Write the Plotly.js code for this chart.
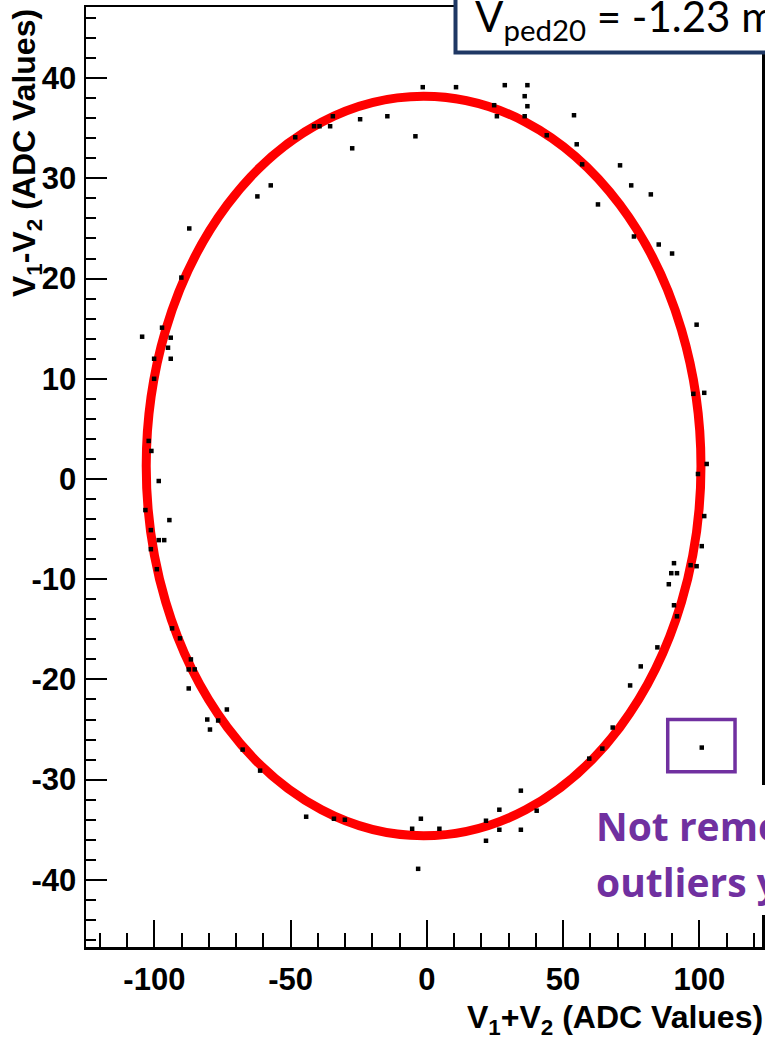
<!DOCTYPE html>
<html>
<head>
<meta charset="utf-8">
<script src="https://cdn.plot.ly/plotly-3.0.1.min.js"></script>
<style>html,body{margin:0;padding:0;background:#fff;}#chart{width:765px;height:1040px;}</style>
</head>
<body>
<div id="chart"></div>
<script>
// Measured points (V1+V2, V1-V2) in ADC values
const sumVals = [
  -1.5, 10.7, -34.5, -41.4, -39.4, -35.5, -24.5, -14.5, -48.3, -27.4, -4.2, -57.3, -62.2, -87.2, -90.1,
  28.6, 36.9, 35.9, 24.7, 36.9, 25.7, 35.9, 54.0, 44.0, 55.0, 57.0, 70.9, 75.0, 82.2, 62.8, 76.0, 85.1, 90.0,
  99.0, 97.8, 101.8, 102.7, 99.5, 101.8, 100.9, 90.7, 96.8, 99.0, 89.7, 91.8, 88.8, 90.7, 91.8, 84.6, 78.5, 74.6,
  68.2, 64.4, 59.6, 100.9,
  -67.6, -61.2, -44.3, -34.1, -30.1, -2.2, -5.4, 4.6, -3.2, 21.7, 26.6, 34.5, 40.3, 26.6, 34.5, 21.7,
  -93.5, -90.6, -86.6, -87.4, -85.2, -87.4, -73.4, -80.6, -76.6, -79.6,
  -97.2, -104.5, -94.0, -95.0, -100.1, -94.0, -100.1, -102.1, -101.1, -98.4, -103.3, -94.5, -101.3, -98.4, -96.4, -101.3, -99.1
];
const diffVals = [
  39.1, 39.1, 36.2, 35.2, 35.2, 35.2, 35.9, 36.2, 34.1, 33.0, 34.2, 29.3, 28.2, 25.0, 20.1,
  39.3, 39.3, 38.2, 37.3, 37.2, 36.2, 36.2, 36.3, 34.3, 33.4, 31.4, 31.3, 29.3, 28.4, 27.4, 24.2, 23.4, 22.5,
  15.4, 8.5, 8.6, 1.5, 0.5, -3.7, -6.7, -8.4, -8.6, -8.7, -9.4, -9.4, -10.5, -12.6, -13.7, -16.8, -18.7, -20.6,
  -24.8, -26.9, -27.9, -26.8,
  -27.0, -29.1, -33.7, -33.9, -34.0, -33.9, -34.9, -34.9, -38.9, -34.1, -33.0, -31.1, -33.1, -35.0, -35.0, -36.1,
  -14.9, -15.9, -18.0, -19.0, -19.0, -20.9, -23.0, -24.0, -24.1, -25.0,
  15.1, 14.2, 14.1, 13.1, 12.0, 12.0, 10.0, 3.8, 2.8, -0.2, -3.1, -4.1, -5.1, -6.1, -6.1, -7.0, -9.0
];
// Ellipse fit parameters
const fitCenterX = -1.2;
const fitCenterY = 1.3;
const fitRadiusX = 101.8;
const fitRadiusY = 36.9;
// Tick labels
const xTickVals = [-100, -50, 0, 50, 100];
const xTickText = ["-100", "-50", "0", "50", "100"];
const yTickVals = [-40, -30, -20, -10, 0, 10, 20, 30, 40];
const yTickText = ["-40", "-30", "-20", "-10", "0", "10", "20", "30", "40"];
// Outlier highlighted
const outlierX = 100.9, outlierY = -26.8;

const tickFont = {family: "Liberation Sans, Arial, sans-serif", size: 31, color: "#000", weight: "bold"};
const titleFont = {family: "Liberation Sans, Arial, sans-serif", size: 32, color: "#000", weight: "bold"};
const noteFont = {family: "Open Sans, sans-serif", size: 39, color: "#7030a0", weight: "bold"};

const trace = {
  type: "scatter", mode: "markers",
  x: sumVals, y: diffVals,
  marker: {symbol: "square", size: 4.5, color: "#000"},
  hoverinfo: "skip"
};

const layout = {
  width: 765, height: 1040,
  margin: {l: 86, r: 3, t: 7, b: 93},
  paper_bgcolor: "#fff", plot_bgcolor: "#fff",
  showlegend: false,
  xaxis: {
    range: [-125.1, 123.0],
    tickmode: "array", tickvals: xTickVals, ticktext: xTickText,
    ticks: "inside", ticklen: 27, tickwidth: 2, tickcolor: "#000",
    minor: {tickmode: "linear", tick0: 0, dtick: 10, ticks: "inside", ticklen: 14, tickwidth: 2, tickcolor: "#000"},
    showline: true, linecolor: "#000", linewidth: 2.5, mirror: true,
    showgrid: false, zeroline: false,
    tickfont: tickFont, ticklabelstandoff: 3
  },
  yaxis: {
    range: [-46.7, 47.1],
    tickmode: "array", tickvals: yTickVals, ticktext: yTickText,
    ticks: "inside", ticklen: 21, tickwidth: 2, tickcolor: "#000",
    minor: {tickmode: "linear", tick0: 0, dtick: 2, ticks: "inside", ticklen: 10, tickwidth: 2, tickcolor: "#000"},
    showline: true, linecolor: "#000", linewidth: 2.5, mirror: true,
    showgrid: false, zeroline: false,
    tickfont: tickFont, ticklabelstandoff: 1
  },
  shapes: [
    {type: "circle", xref: "x", yref: "y", layer: "below",
     x0: fitCenterX - fitRadiusX, x1: fitCenterX + fitRadiusX,
     y0: fitCenterY - fitRadiusY, y1: fitCenterY + fitRadiusY,
     line: {color: "#ff0000", width: 9}},
    {type: "rect", xref: "paper", yref: "paper", layer: "above",
     x0: 0.5466, x1: 1.2, y0: 0.9516, y1: 1.2,
     fillcolor: "#fff", line: {color: "#1f3864", width: 4}},
    {type: "rect", xref: "paper", yref: "paper", layer: "above",
     x0: 0.7426, x1: 1.2, y0: 0.034, y1: 0.1723,
     fillcolor: "#fff", line: {width: 0}},
    {type: "rect", xref: "x", yref: "y", layer: "above",
     x0: outlierX - 12.5, x1: outlierX + 12.2, y0: outlierY - 2.4, y1: outlierY + 2.8,
     line: {color: "#7030a0", width: 3.5}}
  ],
  annotations: [
    {xref: "paper", yref: "paper", x: 1.004, y: -0.077, xanchor: "right", yanchor: "middle",
     showarrow: false, text: "V<sub>1</sub>+V<sub>2</sub> (ADC Values)", font: titleFont},
    {xref: "paper", yref: "paper", x: -0.0888, y: 1, xanchor: "center", yanchor: "top",
     showarrow: false, textangle: -90, text: "V<sub>1</sub>-V<sub>2</sub> (ADC Values)", font: titleFont},
    {xref: "paper", yref: "paper", x: 0.572, y: 0.9875, xanchor: "left", yanchor: "middle",
     showarrow: false, text: "V<sub>ped20</sub> = -1.23 mV",
     font: {family: "Lato, sans-serif", size: 42, color: "#000"}},
    {xref: "paper", yref: "paper", x: 0.7515, y: 0.129, xanchor: "left", yanchor: "middle",
     showarrow: false, text: "Not removed", font: noteFont},
    {xref: "paper", yref: "paper", x: 0.7515, y: 0.070, xanchor: "left", yanchor: "middle",
     showarrow: false, text: "outliers yet", font: noteFont}
  ]
};

Plotly.newPlot("chart", [trace], layout, {displayModeBar: false, staticPlot: true});
</script>
</body>
</html>
